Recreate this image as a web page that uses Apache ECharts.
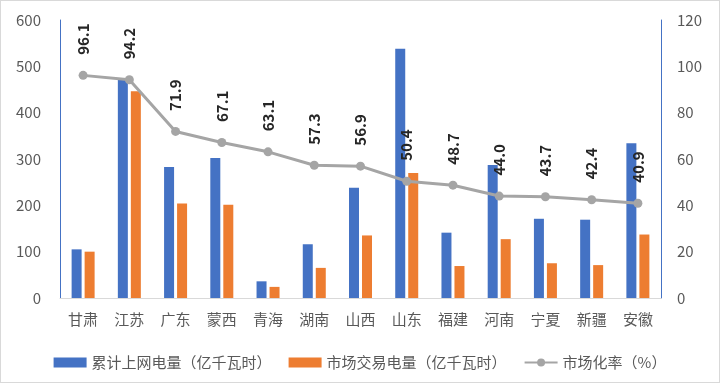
<!DOCTYPE html>
<html>
<head>
<meta charset="utf-8">
<script src="https://cdn.jsdelivr.net/npm/echarts@6/dist/echarts.min.js"></script>
<style>
html,body{margin:0;padding:0;background:#fff;}
#c{width:720px;height:383px;box-sizing:border-box;border:1px solid #d9d9d9;}
</style>
</head>
<body>
<div id="c"></div>
<script>
const categories = ['甘肃','江苏','广东','蒙西','青海','湖南','山西','山东','福建','河南','宁夏','新疆','安徽'];
const gridPower = [105, 472, 283, 302, 36, 116, 238, 538, 141, 287, 171, 169, 334];
const marketPower = [100, 446, 204, 201, 24, 65, 135, 270, 69, 127, 75, 71, 137];
const marketRate = [96.1, 94.2, 71.9, 67.1, 63.1, 57.3, 56.9, 50.4, 48.7, 44.0, 43.7, 42.4, 40.9];
const seriesNames = ['累计上网电量（亿千瓦时）','市场交易电量（亿千瓦时）','市场化率（%）'];

const font = '"Noto Sans CJK SC", "Microsoft YaHei", sans-serif';
const chart = echarts.init(document.getElementById('c'));
chart.setOption({
  animation: false,
  textStyle: {fontFamily: font},
  grid: {left: 59, right: 58, top: 19, bottom: 84},
  legend: {
    top: 349, left: 'center',
    itemWidth: 33, itemHeight: 10, itemGap: 17,
    textStyle: {color: '#595959', fontSize: 15, fontFamily: font},
    data: [
      {name: seriesNames[0], icon: 'rect'},
      {name: seriesNames[1], icon: 'rect'},
      {name: seriesNames[2]}
    ]
  },
  xAxis: {
    type: 'category', data: categories,
    axisLine: {lineStyle: {color: '#d9d9d9', width: 1}},
    axisTick: {show: false},
    axisLabel: {color: '#595959', fontSize: 15, margin: 14, fontFamily: font}
  },
  yAxis: [
    {type: 'value', min: 0, max: 600, interval: 100,
     axisLine: {show: true, lineStyle: {color: '#4472C4'}},
     axisTick: {show: false},
     splitLine: {show: false},
     axisLabel: {color: '#595959', fontSize: 15, margin: 19, fontFamily: font}},
    {type: 'value', min: 0, max: 120, interval: 20,
     axisLine: {show: true, lineStyle: {color: '#4472C4'}},
     axisTick: {show: false},
     splitLine: {show: false},
     axisLabel: {color: '#595959', fontSize: 15, margin: 16, fontFamily: font}}
  ],
  series: [
    {name: seriesNames[0], type: 'bar', data: gridPower, barWidth: 10, barGap: '30%',
     itemStyle: {color: '#4472C4'}},
    {name: seriesNames[1], type: 'bar', data: marketPower, barWidth: 10,
     itemStyle: {color: '#ED7D31'}},
    {name: seriesNames[2], type: 'line', yAxisIndex: 1, data: marketRate,
     symbol: 'circle', symbolSize: 9,
     lineStyle: {color: '#A5A5A5', width: 3},
     itemStyle: {color: '#A5A5A5'},
     label: {show: true, position: 'top', distance: 16, rotate: 90,
       align: 'left', verticalAlign: 'middle',
       formatter: p => p.value.toFixed(1),
       color: '#262626', fontSize: 15, fontWeight: 'bold', fontFamily: font}}
  ]
});
</script>
</body>
</html>
